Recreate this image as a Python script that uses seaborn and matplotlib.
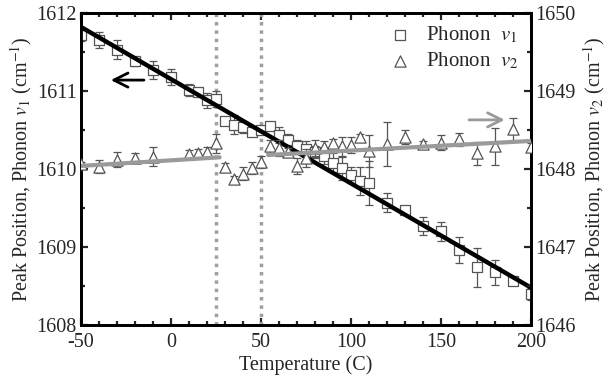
import matplotlib
matplotlib.use("Agg")
import matplotlib.pyplot as plt
from matplotlib.ticker import MultipleLocator
import pandas as pd
import seaborn as sns

# Phonon v1 (left axis)
temp_v1 = [-50, -40, -30, -20, -10, 0, 10, 15, 20, 25, 30, 35, 40, 45, 50, 55, 60, 65,
           70, 75, 80, 85, 90, 95, 100, 105, 110, 120, 130, 140, 150, 160, 170, 180, 190, 200]
peak_v1 = [1611.72, 1611.65, 1611.53, 1611.38, 1611.27, 1611.18, 1611.01, 1610.99, 1610.88,
           1610.90, 1610.62, 1610.57, 1610.54, 1610.47, 1610.50, 1610.55, 1610.44, 1610.37,
           1610.30, 1610.26, 1610.22, 1610.17, 1610.08, 1610.01, 1609.92, 1609.85, 1609.82,
           1609.57, 1609.47, 1609.27, 1609.20, 1608.96, 1608.74, 1608.68, 1608.57, 1608.40]
err_v1 = [0.08, 0.1, 0.12, 0.06, 0.12, 0.1, 0.08, 0.05, 0.1, 0.1,
          0.05, 0.12, 0.08, 0.05, 0.04, 0.05, 0.1, 0.08, 0.07, 0.1, 0.08, 0.1, 0.12, 0.15,
          0.1, 0.18, 0.28, 0.12, 0.04, 0.12, 0.12, 0.17, 0.25, 0.16, 0.05, 0.08]

# Phonon v2 (right axis)
temp_v2 = [-50, -40, -30, -20, -10, 10, 15, 20, 25, 30, 35, 40, 45, 50, 55, 60, 65,
           70, 75, 80, 85, 90, 95, 100, 105, 110, 120, 130, 140, 150, 160, 170, 180, 190, 200]
peak_v2 = [1648.06, 1648.03, 1648.12, 1648.14, 1648.16, 1648.19, 1648.20, 1648.22, 1648.33,
           1648.02, 1647.87, 1647.94, 1648.01, 1648.09, 1648.29, 1648.27, 1648.22, 1648.04,
           1648.14, 1648.27, 1648.28, 1648.33, 1648.29, 1648.31, 1648.41, 1648.23, 1648.32,
           1648.41, 1648.32, 1648.34, 1648.38, 1648.20, 1648.29, 1648.51, 1648.28]
err_v2 = [0.03, 0.08, 0.1, 0.06, 0.12, 0.06, 0.06, 0.06, 0.12,
          0.06, 0.04, 0.08, 0.08, 0.08, 0.08, 0.1, 0.05, 0.1, 0.12, 0.1, 0.08, 0.06, 0.12,
          0.1, 0.04, 0.2, 0.28, 0.09, 0.04, 0.1, 0.08, 0.15, 0.24, 0.15, 0.05]

# linear fits
fit_v1_temp = [-50, 200]
fit_v1_peak = [1611.82, 1608.48]
fit_v2_low_temp = [-50, 27]
fit_v2_low_peak = [1648.04, 1648.15]
fit_v2_high_temp = [54, 200]
fit_v2_high_peak = [1648.18, 1648.36]
transition_temps = [25, 50]

df1 = pd.DataFrame({"temp": temp_v1, "peak": peak_v1, "err": err_v1})
df2 = pd.DataFrame({"temp": temp_v2, "peak": peak_v2, "err": err_v2})

sns.set_style("ticks")
plt.rcParams["font.family"] = ["Liberation Serif", "DejaVu Serif"]
plt.rcParams["mathtext.fontset"] = "stix"
plt.rcParams["font.size"] = 14.5
plt.rcParams["axes.unicode_minus"] = False

fig, ax = plt.subplots(figsize=(6.11, 3.82), dpi=100)
fig.subplots_adjust(left=0.1326, right=0.869, bottom=0.149, top=0.966)
ax2 = ax.twinx()

mark_col = "#555555"

for t in transition_temps:
    ax.axvline(t, color="#a0a0a0", lw=2.5, ls=(0, (1, 1.4)), zorder=1)

ax.errorbar(df1["temp"], df1["peak"], yerr=df1["err"], fmt="none",
            ecolor=mark_col, elinewidth=0.9, capsize=3, capthick=0.9, zorder=2)
sns.scatterplot(data=df1, x="temp", y="peak", ax=ax, marker="s", s=45,
                facecolor="white", edgecolor=mark_col, linewidth=0.9,
                label="Phonon  $v_1$", zorder=3)
sns.lineplot(x=fit_v1_temp, y=fit_v1_peak, ax=ax, color="black", lw=3.2, zorder=4)

ax2.errorbar(df2["temp"], df2["peak"], yerr=df2["err"], fmt="none",
             ecolor=mark_col, elinewidth=0.9, capsize=3, capthick=0.9, zorder=2)
sns.scatterplot(data=df2, x="temp", y="peak", ax=ax2, marker="^", s=65,
                facecolor="white", edgecolor=mark_col, linewidth=0.9,
                label="Phonon  $v_2$", zorder=3)
sns.lineplot(x=fit_v2_low_temp, y=fit_v2_low_peak, ax=ax2, color="#9a9a9a", lw=3, zorder=4)
sns.lineplot(x=fit_v2_high_temp, y=fit_v2_high_peak, ax=ax2, color="#9a9a9a", lw=3, zorder=4)

# direction arrows
ax.annotate("", xy=(-35, 1611.14), xytext=(-13.5, 1611.14),
            arrowprops=dict(arrowstyle="->,head_length=0.7,head_width=0.35",
                            color="black", lw=2))
ax2.annotate("", xy=(187, 1648.63), xytext=(164, 1648.63),
             arrowprops=dict(arrowstyle="->,head_length=0.7,head_width=0.35",
                             color="#9a9a9a", lw=2))

ax.set_xlim(-50, 200)
ax.set_ylim(1608, 1612)
ax2.set_ylim(1646, 1650)
ax.xaxis.set_major_locator(MultipleLocator(50))
ax.xaxis.set_minor_locator(MultipleLocator(10))
ax.yaxis.set_major_locator(MultipleLocator(1))
ax.yaxis.set_minor_locator(MultipleLocator(0.5))
ax2.yaxis.set_major_locator(MultipleLocator(1))
ax2.yaxis.set_minor_locator(MultipleLocator(0.5))

ax.set_xlabel("Temperature (C)", labelpad=2)
ax.set_ylabel("Peak Position, Phonon $v_1$ (cm$^{-1}$)", labelpad=2)
ax2.set_ylabel("Peak Position, Phonon $v_2$ (cm$^{-1}$)", rotation=90, labelpad=4)

ax.tick_params(which="both", direction="in", top=True, right=False, width=1.6, pad=3)
ax.tick_params(axis="x", which="both", pad=6)
ax.tick_params(which="major", length=5)
ax.tick_params(which="minor", length=3)
ax2.tick_params(which="both", direction="in", width=1.6, pad=3)
ax2.tick_params(which="major", length=5)
ax2.tick_params(which="minor", length=3)
for a in (ax, ax2):
    for s in a.spines.values():
        s.set_linewidth(2)
        s.set_color("black")

h1, l1 = ax.get_legend_handles_labels()
h2, l2 = ax2.get_legend_handles_labels()
if ax2.get_legend():
    ax2.get_legend().remove()
ax.legend(h1 + h2, l1 + l2, loc="upper left", bbox_to_anchor=(0.59, 0.985),
          bbox_transform=fig.transFigure, frameon=False, handletextpad=0.25,
          labelspacing=0.25, fontsize=15)

fig.savefig("out.png", dpi=100)
